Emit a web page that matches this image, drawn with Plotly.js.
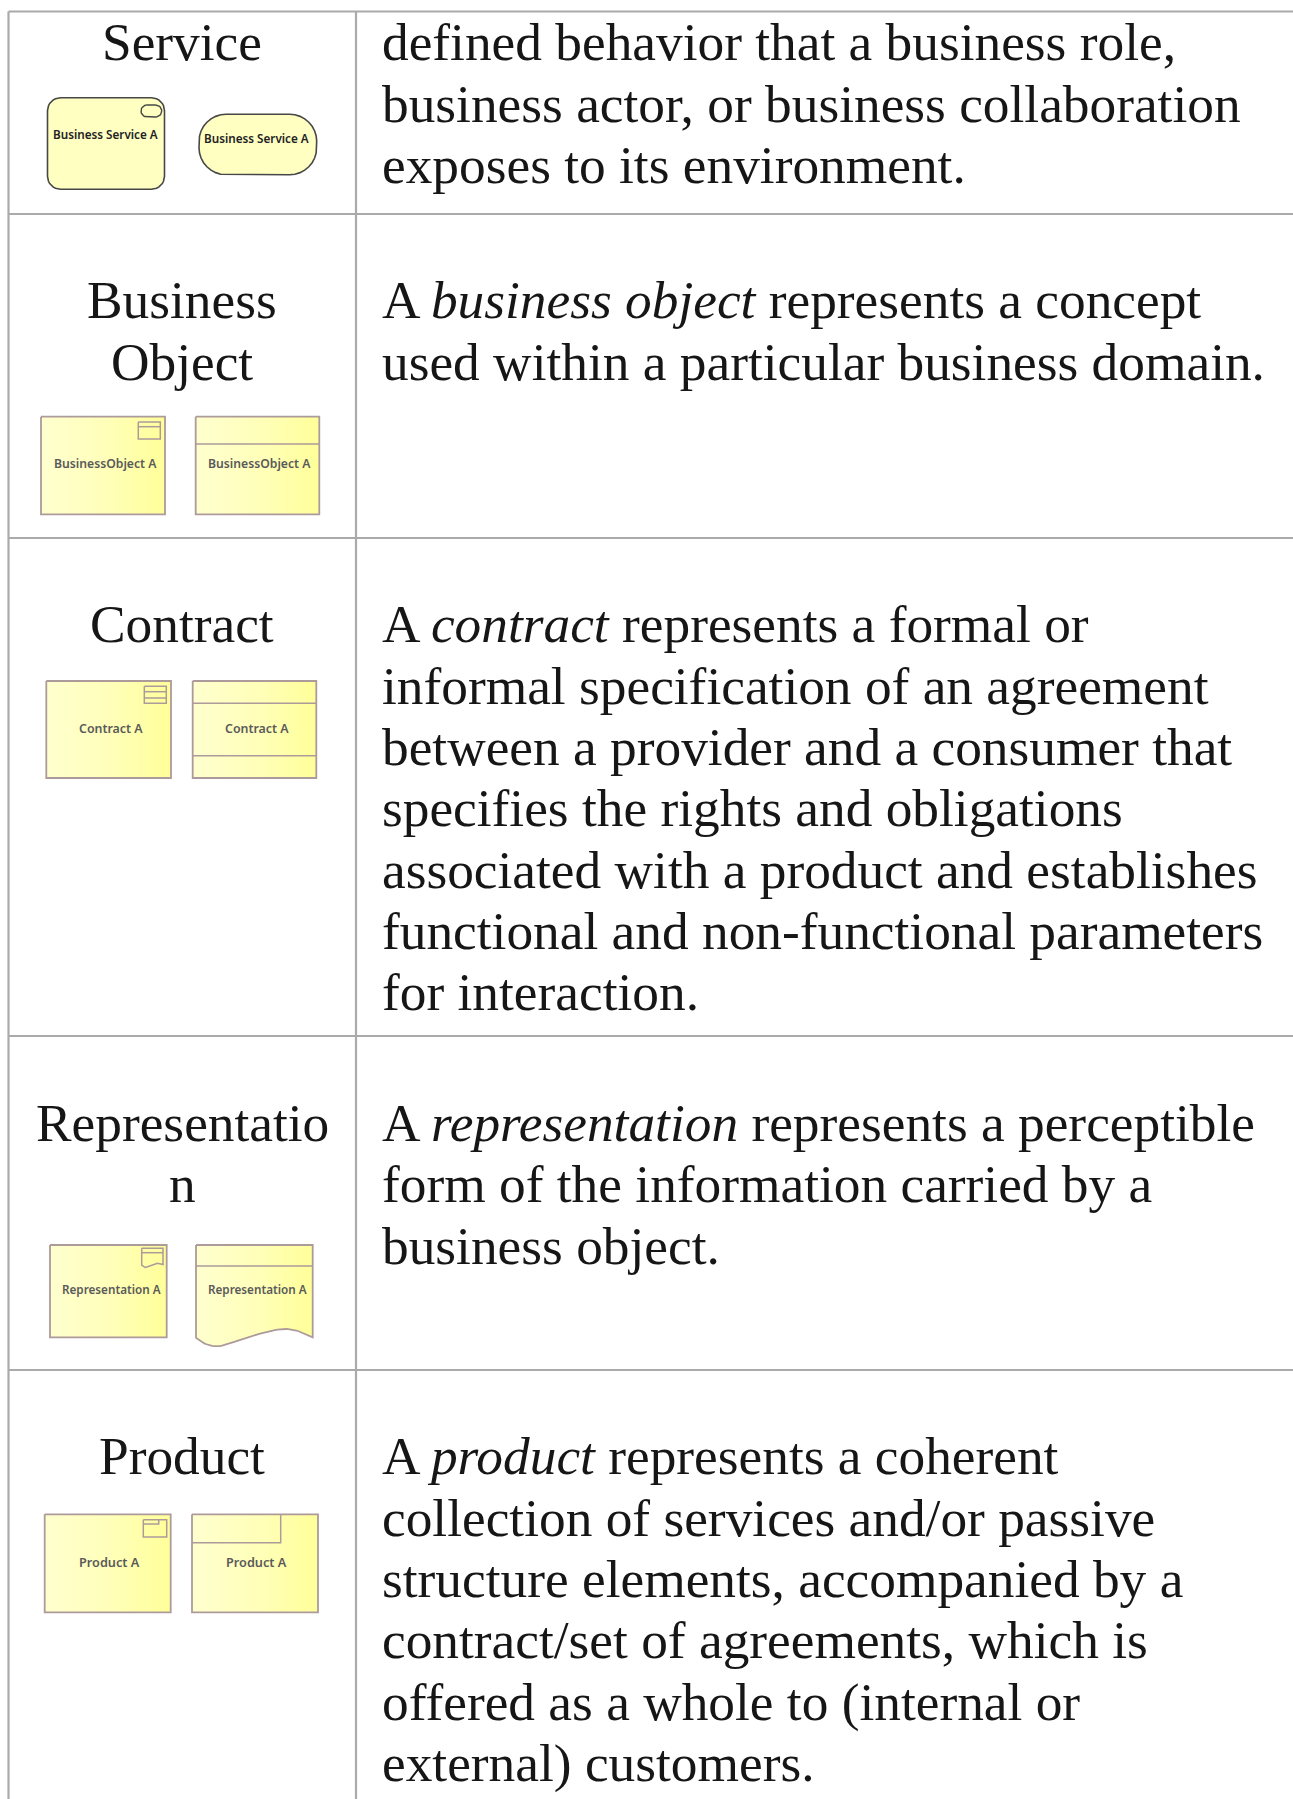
<!DOCTYPE html>
<html><head><meta charset="utf-8">
<script src="https://cdn.plot.ly/plotly-3.0.1.min.js"></script>
<style>html,body{margin:0;padding:0;background:#fff}#c{width:1293px;height:1799px}</style>
</head><body><div id="c"></div>
<script>
const W = 1293, H = 1799;
const columnRules = [8.5, 356];
const rowRules = [11.5, 214, 538, 1036, 1370];

const termLines = [
  ["Service"], ["Business", "Object"], ["Contract"], ["Representatio", "n"], ["Product"]
];
const termBaselines = [60.5, 318.5, 642.5, 1141, 1474.5];
const descriptionLines = [
  ["defined behavior that a business role,", "business actor, or business collaboration", "exposes to its environment."],
  ["A <i>business object</i> represents a concept", "used within a particular business domain."],
  ["A <i>contract</i> represents a formal or", "informal specification of an agreement", "between a provider and a consumer that", "specifies the rights and obligations", "associated with a product and establishes", "functional and non-functional parameters", "for interaction."],
  ["A <i>representation</i> represents a perceptible", "form of the information carried by a", "business object."],
  ["A <i>product</i> represents a coherent", "collection of services and/or passive", "structure elements, accompanied by a", "contract/set of agreements, which is", "offered as a whole to (internal or", "external) customers."]
];
const elementLabels = [
  ["Business Service A", 105.3, 134.3, "#222", 11.7], ["Business Service A", 256.5, 138, "#222", 11.7],
  ["BusinessObject A", 105.3, 463, "#5a5a5a", 12.2], ["BusinessObject A", 259.7, 463, "#5a5a5a", 12.2],
  ["Contract A", 111, 728, "#5a5a5a", 12.4], ["Contract A", 257.3, 728, "#5a5a5a", 12.4],
  ["Representation A", 111.5, 1289.3, "#5a5a5a", 11.7], ["Representation A", 257.5, 1289.3, "#5a5a5a", 11.7],
  ["Product A", 109.3, 1561.6, "#5a5a5a", 12.7], ["Product A", 256.7, 1561.6, "#5a5a5a", 12.7]
];

const SERIF = 53.35, LEAD = 61.3;
const serifFont = {family: '"Liberation Serif", "Times New Roman", serif', size: SERIF, color: '#161616'};
const traces = [], annotations = [];

function rect(a, b, c, d) { return [[a, b], [c, b], [c, d], [a, d], [a, b]]; }
function rounded(a, b, c, d, r) {
  const p = [], arc = (cx, cy, s) => { for (let i = 0; i <= 8; i++) { const t = s + i * Math.PI / 16; p.push([cx + r * Math.cos(t), cy + r * Math.sin(t)]); } };
  arc(c - r, b + r, -Math.PI / 2); arc(c - r, d - r, 0); arc(a + r, d - r, Math.PI / 2); arc(a + r, b + r, Math.PI);
  p.push(p[0]); return p;
}
function curve(k) {
  const out = [];
  for (let i = 0; i < k.length - 1; i++) {
    const a = k[Math.max(i - 1, 0)], b = k[i], c = k[i + 1], d = k[Math.min(i + 2, k.length - 1)];
    for (let s = 0; s < 10; s++) {
      const t = s / 10, t2 = t * t, t3 = t2 * t;
      const f = j => 0.5 * (2 * b[j] + (c[j] - a[j]) * t + (2 * a[j] - 5 * b[j] + 4 * c[j] - d[j]) * t2 + (3 * b[j] - a[j] - 3 * c[j] + d[j]) * t3);
      out.push([f(0), f(1)]);
    }
  }
  out.push(k[k.length - 1]);
  return out;
}
function trace(pts, color, width, filled) {
  const t = {x: pts.map(q => q[0]), y: pts.map(q => q[1]), mode: 'lines', hoverinfo: 'skip', showlegend: false,
             line: {color, width}};
  if (filled) {
    t.fill = 'toself';
    if (filled === 'flat') t.fillcolor = '#FFFFC2';
    else t.fillgradient = {type: 'horizontal', colorscale: [[0, '#FFFFCF'], [0.55, '#FFFFB8'], [1, '#FFFF99']]};
  }
  traces.push(t);
}
const STROKE = '#ad9a9a', DARK = '#474747';

// Service
trace(rounded(47.5, 97.7, 164.5, 189.3, 13), DARK, 1.6, 'flat');
trace(rounded(141, 105, 161.7, 117, 6), DARK, 1.4);
trace(rounded(199, 114.3, 316.7, 174.7, 27), DARK, 1.6, 'flat');
// Business object
trace(rect(41, 416.7, 165, 514.3), STROKE, 1.8, true);
trace(rect(138.3, 422, 160.3, 439), STROKE, 1.5);
trace([[138.3, 426.7], [160.3, 426.7]], STROKE, 1.5);
trace(rect(195.7, 416.7, 319.3, 514.3), STROKE, 1.8, true);
trace([[195.7, 444], [319.3, 444]], STROKE, 1.5);
// Contract
trace(rect(46.3, 681, 171, 778), STROKE, 1.8, true);
trace(rect(144.3, 686.3, 166.3, 703.3), STROKE, 1.5);
trace([[144.3, 691.7], [166.3, 691.7]], STROKE, 1.5);
trace([[144.3, 698], [166.3, 698]], STROKE, 1.5);
trace(rect(192.7, 681, 316.3, 778), STROKE, 1.8, true);
trace([[192.7, 703.3], [316.3, 703.3]], STROKE, 1.5);
trace([[192.7, 755.7], [316.3, 755.7]], STROKE, 1.5);
// Representation
trace(rect(50, 1245, 166.7, 1337.3), STROKE, 1.8, true);
trace([[141.7, 1248.3], [163, 1248.3], [163, 1264.5]].concat(curve([[163, 1264.5], [158, 1263.2], [152, 1265.5], [146, 1267.5], [141.7, 1265]])).concat([[141.7, 1248.3]]), STROKE, 1.5);
trace([[141.7, 1252.7], [163, 1252.7]], STROKE, 1.5);
trace([[196, 1245], [312.7, 1245], [312.7, 1337.3]].concat(curve([[312.7, 1337.3], [298, 1331], [280, 1329.3], [250, 1336.5], [222, 1345.7], [207, 1344.5], [196, 1337.7]])).concat([[196, 1245]]), STROKE, 1.8, true);
trace([[196, 1266], [312.7, 1266]], STROKE, 1.5);
// Product
trace(rect(44.7, 1514.3, 170.7, 1612.3), STROKE, 1.8, true);
trace(rect(143.3, 1519.7, 166.7, 1537), STROKE, 1.5);
trace([[143.3, 1524], [158.7, 1524], [158.7, 1519.7]], STROKE, 1.5);
trace(rect(192, 1514.3, 318, 1612.3), STROKE, 1.8, true);
trace([[192, 1542.7], [280.7, 1542.7], [280.7, 1514.3]], STROKE, 1.5);

function serifAt(text, x, anchor, baseline) {
  annotations.push({text, x, y: baseline - 0.3375 * SERIF, xref: 'x', yref: 'y', xanchor: anchor, yanchor: 'middle',
                    showarrow: false, borderpad: 0, borderwidth: 0, font: serifFont});
}
termLines.forEach((lines, r) => lines.forEach((t, i) => serifAt(t, 182, 'center', termBaselines[r] + i * LEAD)));
descriptionLines.forEach((lines, r) => lines.forEach((t, i) => serifAt(t, 382, 'left', termBaselines[r] + i * LEAD)));
elementLabels.forEach(e => annotations.push({text: e[0], x: e[1], y: e[2], xref: 'x', yref: 'y', xanchor: 'center', yanchor: 'middle',
  showarrow: false, borderpad: 0, borderwidth: 0, font: {family: '"Noto Sans", "Open Sans", sans-serif', size: e[4], color: e[3], weight: 600}}));

const shapes = [];
columnRules.forEach(x => shapes.push({type: 'line', x0: x, x1: x, y0: rowRules[0], y1: H, xref: 'x', yref: 'y', line: {color: '#aaaaaa', width: 2.2}}));
rowRules.forEach(y => shapes.push({type: 'line', x0: columnRules[0], x1: W, y0: y, y1: y, xref: 'x', yref: 'y', line: {color: '#aaaaaa', width: 2.2}}));

Plotly.newPlot('c', traces, {
  width: W, height: H, margin: {l: 0, r: 0, t: 0, b: 0}, paper_bgcolor: '#fff', plot_bgcolor: '#fff', showlegend: false,
  xaxis: {range: [0, W], visible: false, fixedrange: true},
  yaxis: {range: [H, 0], visible: false, fixedrange: true},
  shapes, annotations
}, {staticPlot: true, displayModeBar: false});
</script></body></html>
